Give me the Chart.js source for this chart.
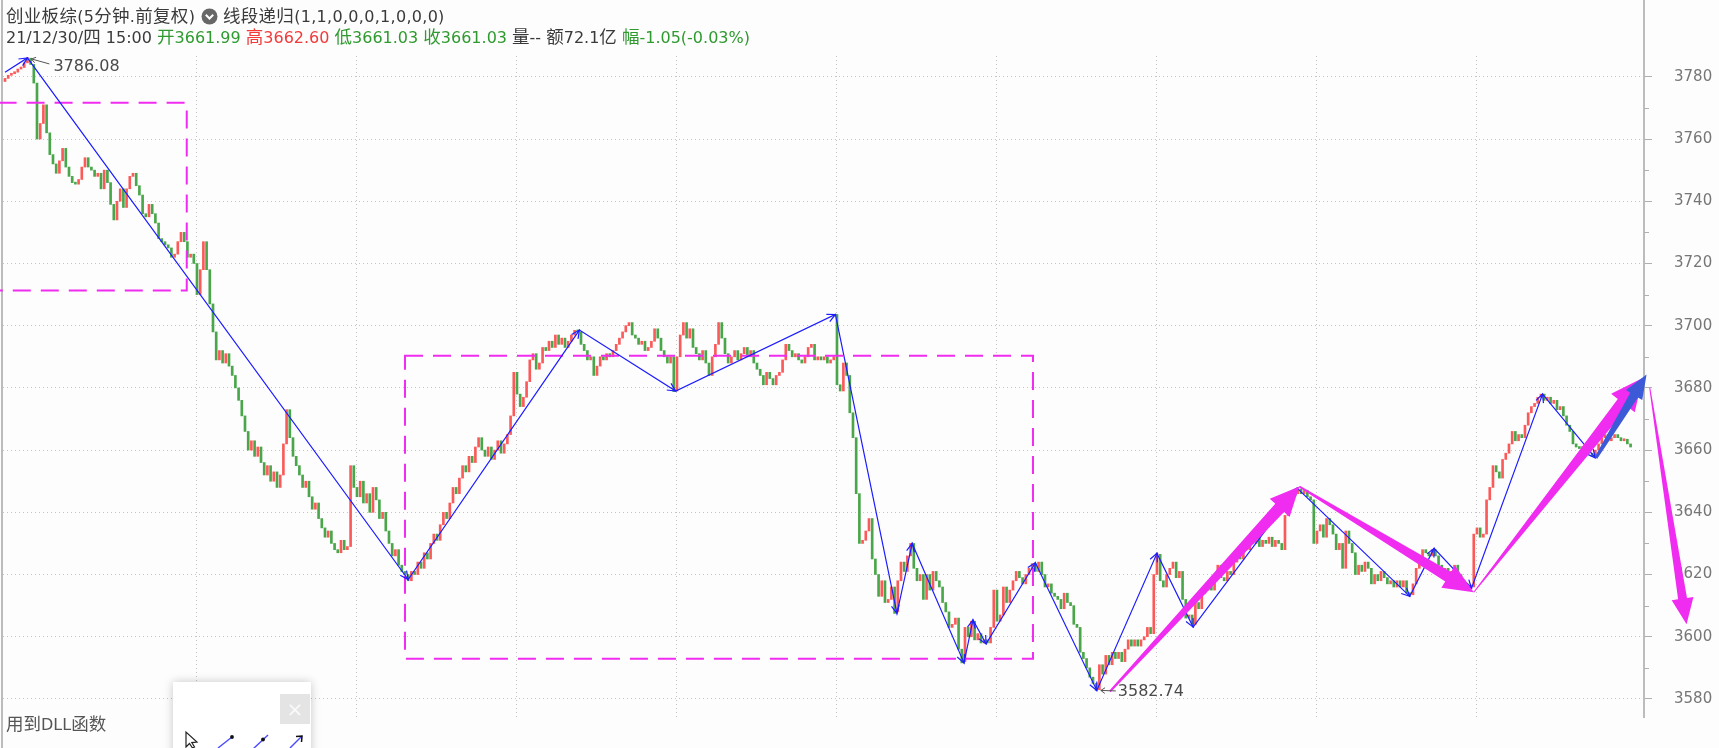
<!DOCTYPE html>
<html>
<head>
<meta charset="utf-8">
<script src="https://cdn.jsdelivr.net/npm/chart.js@4.4.1/dist/chart.umd.min.js"></script>
<style>
html,body{margin:0;padding:0;background:#fdfdfd;}
#wrap{position:relative;width:1719px;height:748px;overflow:hidden;font-family:"DejaVu Sans","Noto Sans CJK SC",sans-serif;}
#c{position:absolute;left:0;top:0;}
.hdr{position:absolute;left:6px;font-size:16px;color:#3a3a3a;white-space:nowrap;line-height:20px;}
.k{font-family:"Noto Sans CJK SC",sans-serif;font-size:17.5px;line-height:20px;}
.g{color:#2f9a2f}.r{color:#f23a3a}
#dll{position:absolute;left:6px;top:713px;font-size:16px;color:#555;line-height:20px;white-space:nowrap;}
#panel{position:absolute;left:173px;top:682px;width:138px;height:80px;background:#fff;box-shadow:0 0 9px rgba(0,0,0,0.22);}
#close{position:absolute;left:107px;top:12px;width:30px;height:30px;background:#e4e4e4;color:#fafafa;font-size:20px;line-height:30px;text-align:center;}
</style>
</head>
<body>
<div id="wrap">
<canvas id="c" width="1719" height="748"></canvas>
<div class="hdr" style="top:5px;letter-spacing:0.3px"><span class="k">创业板综</span>(5<span class="k">分钟</span>.<span class="k">前复权</span>) <svg width="17" height="17" style="vertical-align:-3px"><circle cx="8.5" cy="8.5" r="8" fill="#676767"/><path d="M4.8 6.8 L8.5 10.5 L12.2 6.8" stroke="#fff" stroke-width="2" fill="none"/></svg> <span class="k">线段递归</span>(1,1,0,0,0,1,0,0,0)</div>
<div class="hdr" style="top:26px">21/12/30/<span class="k">四</span> 15:00 <span class="g"><span class="k">开</span>3661.99</span> <span class="r"><span class="k">高</span>3662.60</span> <span class="g"><span class="k">低</span>3661.03</span> <span class="g"><span class="k">收</span>3661.03</span> <span class="k">量</span>-- <span class="k">额</span>72.1<span class="k">亿</span> <span class="g"><span class="k">幅</span>-1.05(-0.03%)</span></div>
<div id="dll"><span class="k">用到</span>DLL<span class="k">函数</span></div>
<div id="panel"><div id="close">×</div>
<svg width="138" height="66" style="position:absolute;left:0;top:0">
<path d="M13 50 L13 65 L16.5 61.5 L19.5 66 L21.5 65 L18.8 60.6 L24 60 Z" fill="#fff" stroke="#222" stroke-width="1.2"/>
<line x1="45" y1="66" x2="59" y2="55" stroke="#4b4bff" stroke-width="1.4"/><circle cx="59" cy="55" r="1.9" fill="#111"/>
<line x1="80" y1="67" x2="95" y2="53" stroke="#4b4bff" stroke-width="1.4"/><circle cx="90" cy="57.5" r="1.9" fill="#111"/>
<line x1="117" y1="66" x2="129" y2="54" stroke="#4b4bff" stroke-width="1.4"/><path d="M123 54.5 L129 54 L128.5 60" stroke="#111" stroke-width="1.5" fill="none"/>
</svg></div>
</div>
<script>
// ---- data ----
const closes = [
3779.5,3780.5,3781,3781.5,3782.5,3783,3784.5,3786,3784,3778,
3760,3765,3771,3762,3755,3752,3749,3753,3757,3751,
3748,3746,3745.5,3747,3751,3754,3751,3750,3748,3749,
3744,3750,3746,3739,3734,3740,3744,3738,3744,3748,
3749,3745,3742,3736,3735,3739,3736,3733,3728,3727,
3726,3725,3722,3723,3727,3730,3727,3722,3723,3720,
3710,3718,3727,3718,3707,3698,3689,3692,3688,3691,
3687,3684,3680,3676,3671,3666,3660,3663,3658,3661,
3656,3652,3655,3650,3653,3648,3652,3662,3673,3664,
3658,3655,3652,3648,3650,3645,3641,3643,3638,3635,
3632,3634,3630,3628,3627,3631,3628,3629,3655,3648,
3645,3650,3643,3646,3640,3648,3644,3638,3640,3634,
3630,3626,3628,3623,3621,3620,3618,3621,3620,3624,
3622,3627,3625,3630,3633,3631,3636,3640,3638,3643,
3648,3646,3651,3655,3653,3658,3656,3661,3664,3660,
3658,3661,3657,3660,3663,3659,3662,3665,3671,3685,
3678,3674,3677,3682,3689,3691,3686,3688,3693,3692,
3695,3693,3697,3694,3696,3693,3695,3697,3698.5,3698,
3694,3692,3689,3690,3684,3687,3690,3689,3691,3690,
3692,3694,3696,3698,3700,3701,3697,3696,3694,3695,
3692,3693,3695,3699,3696,3692,3690,3688,3690,3679,
3690,3697,3701,3696,3699,3693,3691,3689,3692,3688,
3684,3690,3694,3701,3696,3691,3688,3690,3692,3689,
3691,3693,3690,3692,3688,3686,3684,3681,3685,3683,
3681,3684,3685,3689,3694,3692,3690,3691,3689,3688,
3690,3693,3694,3689,3690,3689,3690,3688,3689,3690,
3681,3679,3688,3684,3672,3664,3646,3630,3631,3634,
3638,3625,3620,3613,3618,3611,3612,3616,3608,3618,
3624,3621,3626,3630,3622,3618,3620,3612,3620,3615,
3621,3618,3616,3611,3608,3603,3604,3606,3596,3592,
3603,3600,3605,3599,3601,3598,3599,3598,3603,3615,
3605,3607,3616,3611,3615,3618,3621,3619,3617,3620,
3622,3623.5,3621,3624,3620,3616,3617,3614,3613,3612,
3609,3614,3611,3610,3604,3603,3595,3593,3590,3587,
3585,3583,3591,3588,3594,3591,3595,3593,3595,3592,
3596,3599,3597,3599,3597,3599,3600,3603,3601,3620,
3626.5,3618,3616,3620,3622,3624,3619,3621,3612,3606,
3607,3604,3611,3609,3614,3615,3617,3615,3620,3623,
3619,3618,3621,3620,3624,3628,3625,3629,3628,3631,
3630,3632,3629,3631,3630,3632,3629,3631,3630,3628,
3639,3642,3645,3646,3647.5,3646,3647,3645,3644,3630,
3634,3636,3632,3638,3636,3633,3628,3630,3622,3634,
3630,3627,3620,3623,3621,3624,3622,3617,3620,3618,
3621,3619,3617,3618,3616,3618,3616,3618,3614,3613.5,
3617,3622,3625,3628,3627,3626,3628,3626,3623,3621,
3622,3619,3621,3623,3620,3618,3617,3616,3616,3633,
3635,3632,3633,3644,3648,3655,3653,3651,3657,3659,
3662,3666,3663,3665,3664,3668,3672,3674,3675,3677,
3678,3676,3677,3675,3676,3673,3674,3671,3668,3666,
3662,3661,3660.5,3661,3660,3659,3658,3660,3662,3664,
3665,3663,3664,3665,3664,3663,3663.5,3662,3661
];
// extreme prints (highs/lows) for a few bars
const wickIdx = [7, 209, 260, 278, 299, 341, 360];
const wickVal = [3786.08, 3678.8, 3703.6, 3607.5, 3591.6, 3582.74, 3626.8];
// y tick labels and vertical grid positions (bar index)
const yTicks = [3580, 3600, 3620, 3640, 3660, 3680, 3700, 3720, 3740, 3760, 3780];
const yMinor = [3590, 3610, 3630, 3650, 3670, 3690, 3710, 3730, 3750, 3770];
const gridIdx = [60, 110, 160, 210, 260, 310, 360, 410, 460];
// zigzag (线段) pivots
const zzIdx = [0, 7, 126, 179.5, 209.6, 259.5, 278.75, 283.5, 299.7, 302.5, 306.6, 322, 341.2, 360, 371.3, 403.8, 439, 446.6, 458.3, 480.5, 497];
const zzVal = [3781.5, 3786.08, 3618.4, 3698.6, 3679, 3703.6, 3607.5, 3630, 3591.6, 3605.4, 3597.7, 3623.8, 3582.74, 3626.8, 3603.1, 3647.8, 3613, 3628.4, 3615.6, 3678, 3657.5];
// dashed boxes
const boxX0 = [-2, 125];
const boxX1 = [56.8, 321.25];
const boxTop = [3771.7, 3690.3];
const boxBottom = [3711.3, 3592.9];
// thick arrows
const arrowX0 = [345.3, 404.5, 459, 497.2, 514];
const arrowY0 = [3582.4, 3648.3, 3614.3, 3657.5, 3680];
const arrowX1 = [404.5, 459, 511.8, 513, 525.5];
const arrowY1 = [3648.3, 3614.3, 3683.2, 3684.3, 3604];
// price labels
const labelIdx = [7, 341.2];
const labelVal = [3786.08, 3582.74];

// ---- build ----
const RED = '#fb5a5a', GREEN = '#4aa64a', MAG = '#f02cf0', BLUE = '#1c1cff', BLUE2 = '#3c5ad8';
const opens = closes.map((c, i) => i === 0 ? c - 1 : closes[i - 1]);
const bars = closes.map((c, i) => {
  let lo = Math.min(opens[i], c), hi = Math.max(opens[i], c);
  const k = wickIdx.indexOf(i);
  if (k >= 0) { lo = Math.min(lo, wickVal[k]); hi = Math.max(hi, wickVal[k]); }
  return {x: i, y: [lo, hi]};
});
const barColors = closes.map((c, i) => c >= opens[i] ? RED : GREEN);

const arrowStyle = [
  {c: MAG, w0: 2, w1: 12, hw: 27, hl: 29},
  {c: MAG, w0: 2, w1: 11, hw: 26, hl: 30},
  {c: MAG, w0: 1, w1: 13, hw: 30, hl: 32},
  {c: BLUE2, w0: 3, w1: 9, hw: 19, hl: 24},
  {c: MAG, w0: 1, w1: 9, hw: 22, hl: 26}
];

function fatArrow(ctx, x0, y0, x1, y1, s) {
  const dx = x1 - x0, dy = y1 - y0, L = Math.hypot(dx, dy);
  const ux = dx / L, uy = dy / L, nx = -uy, ny = ux;
  const bx = x1 - ux * s.hl, by = y1 - uy * s.hl;
  ctx.fillStyle = s.c;
  ctx.beginPath();
  ctx.moveTo(x0 + nx * s.w0 / 2, y0 + ny * s.w0 / 2);
  ctx.lineTo(bx + nx * s.w1 / 2, by + ny * s.w1 / 2);
  ctx.lineTo(bx + nx * s.hw / 2, by + ny * s.hw / 2);
  ctx.lineTo(x1, y1);
  ctx.lineTo(bx - nx * s.hw / 2, by - ny * s.hw / 2);
  ctx.lineTo(bx - nx * s.w1 / 2, by - ny * s.w1 / 2);
  ctx.lineTo(x0 - nx * s.w0 / 2, y0 - ny * s.w0 / 2);
  ctx.closePath();
  ctx.fill();
}
function openHead(ctx, x0, y0, x1, y1, len, ang) {
  const a = Math.atan2(y1 - y0, x1 - x0);
  ctx.beginPath();
  ctx.moveTo(x1 - len * Math.cos(a - ang), y1 - len * Math.sin(a - ang));
  ctx.lineTo(x1, y1);
  ctx.lineTo(x1 - len * Math.cos(a + ang), y1 - len * Math.sin(a + ang));
  ctx.stroke();
}

const overlay = {
  id: 'overlay',
  afterDraw(chart) {
    const {ctx, chartArea: ca} = chart;
    const xs = chart.scales.x, ys = chart.scales.y;
    const px = v => xs.getPixelForValue(v), py = v => ys.getPixelForValue(v);
    ctx.save();
    // frame lines
    ctx.strokeStyle = '#bcbcbc'; ctx.lineWidth = 2;
    ctx.beginPath(); ctx.moveTo(2, 0); ctx.lineTo(2, 748); ctx.stroke();
    ctx.beginPath(); ctx.moveTo(ca.right, 0); ctx.lineTo(ca.right, ca.top + 1); ctx.stroke();
    // minor ticks
    ctx.strokeStyle = '#b0b0b0'; ctx.lineWidth = 1;
    yMinor.forEach(v => { const y = Math.round(py(v)) + 0.5; ctx.beginPath(); ctx.moveTo(ca.right, y); ctx.lineTo(ca.right + 5, y); ctx.stroke(); });
    // dashed boxes
    ctx.strokeStyle = MAG; ctx.lineWidth = 2; ctx.setLineDash([18, 10]);
    boxX0.forEach((b, k) => {
      const l = px(b), r = px(boxX1[k]), t = py(boxTop[k]), btm = py(boxBottom[k]);
      ctx.strokeRect(l, t, r - l, btm - t);
    });
    ctx.setLineDash([]);
    // zigzag
    ctx.strokeStyle = BLUE; ctx.lineWidth = 1.2;
    ctx.beginPath();
    zzIdx.forEach((v, k) => { const X = px(v), Y = py(zzVal[k]); k ? ctx.lineTo(X, Y) : ctx.moveTo(X, Y); });
    ctx.stroke();
    for (let k = 1; k < zzIdx.length; k++) {
      openHead(ctx, px(zzIdx[k - 1]), py(zzVal[k - 1]), px(zzIdx[k]), py(zzVal[k]), 9, 0.45);
    }
    // thick arrows
    arrowX0.forEach((v, k) => fatArrow(ctx, px(v), py(arrowY0[k]), px(arrowX1[k]), py(arrowY1[k]), arrowStyle[k]));
    // price labels
    ctx.font = '16px "DejaVu Sans"'; ctx.fillStyle = '#4a4a4a'; ctx.textBaseline = 'middle'; ctx.textAlign = 'left';
    ctx.strokeStyle = '#555'; ctx.lineWidth = 1;
    labelIdx.forEach((v, k) => {
      const X = px(v), Y = py(labelVal[k]);
      const top = k === 0;
      const ax = X + 4, ay = Y + (top ? 1 : 0), bx = X + (top ? 22 : 19), by = Y + (top ? 6 : 0.5);
      ctx.beginPath(); ctx.moveTo(bx, by); ctx.lineTo(ax, ay); ctx.stroke();
      openHead(ctx, bx, by, ax, ay, 5, 0.6);
      ctx.fillText(labelVal[k].toFixed(2), X + (top ? 26 : 21), Y + (top ? 9 : 1));
    });
    ctx.restore();
  }
};

new Chart(document.getElementById('c'), {
  type: 'bar',
  data: {datasets: [{data: bars, backgroundColor: barColors, barThickness: 2, minBarLength: 2, grouped: false, borderWidth: 0}]},
  options: {
    responsive: false, animation: false, devicePixelRatio: 1,
    layout: {padding: {top: 56, left: 3, right: 0, bottom: 0}},
    plugins: {legend: {display: false}, tooltip: {enabled: false}},
    scales: {
      x: {
        type: 'linear', min: -0.625, max: 512.2, offset: false,
        afterBuildTicks: s => { s.ticks = gridIdx.map(v => ({value: v})); },
        ticks: {display: false},
        grid: {color: '#c4c4c4', lineWidth: 1, drawTicks: false, offset: false},
        border: {display: false, dash: [1, 3]}
      },
      y: {
        position: 'right', min: 3574.2, max: 3786.7,
        afterBuildTicks: s => { s.ticks = yTicks.map(v => ({value: v})); },
        afterFit: s => { s.width = 75; },
        ticks: {font: {family: 'DejaVu Sans', size: 15}, color: '#767676', padding: 22, callback: v => String(v)},
        grid: {color: '#c4c4c4', lineWidth: 1, drawTicks: true, tickLength: 8, tickColor: '#b0b0b0', tickWidth: 1},
        border: {display: true, color: '#bcbcbc', width: 2, dash: [1, 3]}
      }
    }
  },
  plugins: [overlay]
});
</script>
</body>
</html>
